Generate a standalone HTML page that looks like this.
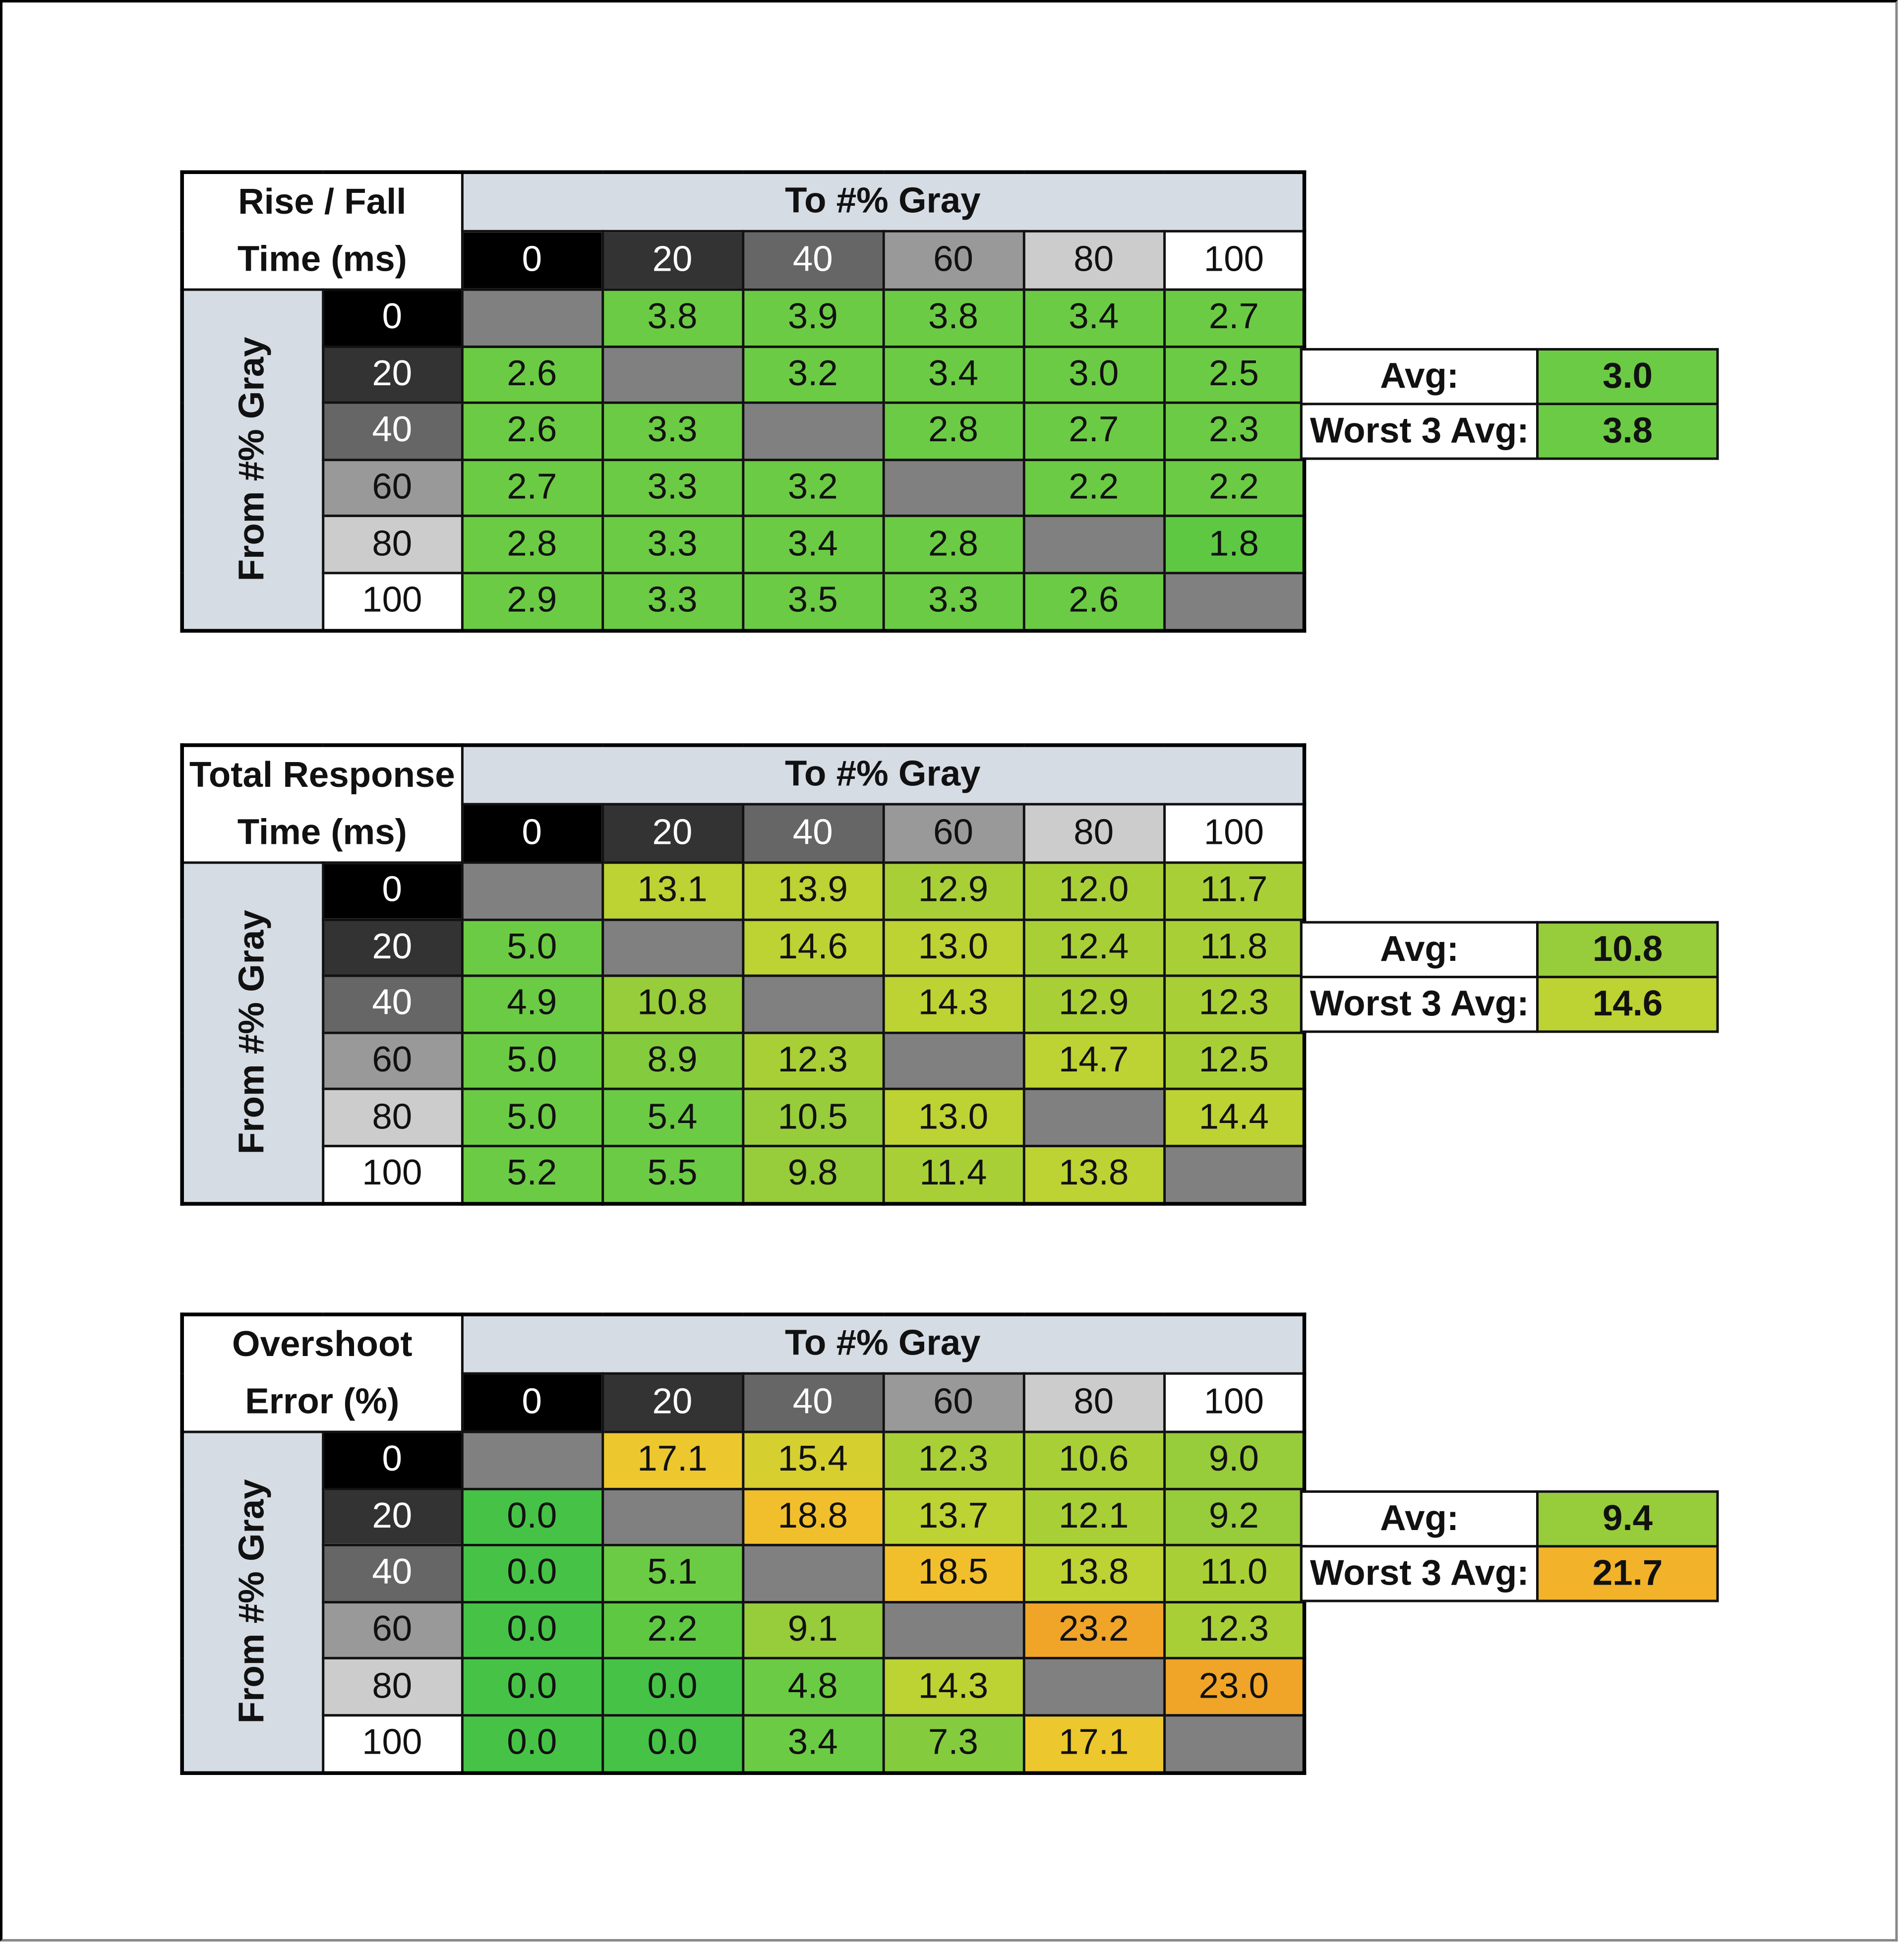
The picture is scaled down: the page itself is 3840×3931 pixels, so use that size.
<!DOCTYPE html>
<html><head><meta charset="utf-8"><style>
html,body{margin:0;padding:0;background:#fff}
body{width:3840px;height:3931px;overflow:hidden;position:relative}
#s{position:absolute;left:0;top:0;width:1532px;height:1568px;transform:scale(2.5065,2.507);transform-origin:0 0;font-family:"Liberation Sans Narrow","Liberation Sans",sans-serif;color:#111}
.frame{position:absolute;left:0;top:0;width:1527px;height:1562px;border-top:2px solid #000;border-left:2px solid #000;border-right:2px solid #888;border-bottom:2px solid #888;box-sizing:border-box}
table{position:absolute;border-collapse:collapse;table-layout:fixed;border:3px solid #000}
td{border:2px solid #111;padding:0;text-align:center;font-size:29px;line-height:1;overflow:hidden;white-space:nowrap}
.t td{height:43.6px}
.hd{background:#d6dce4;font-weight:bold}
.ti{background:#fff;font-weight:bold;line-height:46px;font-size:29px}
.rl{background:#d6dce4}
.rl div{writing-mode:vertical-rl;transform:rotate(180deg);font-weight:bold;font-size:29px;margin:auto}
.c0{background:#000;color:#fff}.c20{background:#333;color:#fff}.c40{background:#666;color:#fff}.c60{background:#999}.c80{background:#ccc}.c100{background:#fff}
.e{background:#808080}
.g{background:#6ccb44}.g2{background:#5fc843}.g0{background:#46c346}
.l1{background:#84cc3e}.l2{background:#97cc3b}.l3{background:#a9cf37}.l4{background:#bdd233}
.y1{background:#d6cf30}.y2{background:#ecc72e}.y3{background:#f2bf2c}.o1{background:#f2b22a}.o2{background:#f0a428}
.av{border:2px solid #111}
.av td{height:42px;font-size:29px}
.av .lb{background:#fff;font-weight:bold;width:186px}
.av .v{font-weight:bold;width:141px}
</style></head><body><div id="s">
<div class="frame"></div>

<!-- Table 1 -->
<table class="t" style="left:145px;top:137px;width:903px">
<colgroup><col style="width:113px"><col style="width:112px"><col span="6" style="width:113px"></colgroup>
<tr><td class="ti" rowspan="2" colspan="2" style="height:92px">Rise / Fall<br>Time (ms)</td><td class="hd" colspan="6" style="height:44px">To #% Gray</td></tr>
<tr><td class="c0">0</td><td class="c20">20</td><td class="c40">40</td><td class="c60">60</td><td class="c80">80</td><td class="c100">100</td></tr>
<tr><td class="rl" rowspan="6"><div>From #% Gray</div></td><td class="c0">0</td><td class="e"></td><td class="g">3.8</td><td class="g">3.9</td><td class="g">3.8</td><td class="g">3.4</td><td class="g">2.7</td></tr>
<tr><td class="c20">20</td><td class="g">2.6</td><td class="e"></td><td class="g">3.2</td><td class="g">3.4</td><td class="g">3.0</td><td class="g">2.5</td></tr>
<tr><td class="c40">40</td><td class="g">2.6</td><td class="g">3.3</td><td class="e"></td><td class="g">2.8</td><td class="g">2.7</td><td class="g">2.3</td></tr>
<tr><td class="c60">60</td><td class="g">2.7</td><td class="g">3.3</td><td class="g">3.2</td><td class="e"></td><td class="g">2.2</td><td class="g">2.2</td></tr>
<tr><td class="c80">80</td><td class="g">2.8</td><td class="g">3.3</td><td class="g">3.4</td><td class="g">2.8</td><td class="e"></td><td class="g2">1.8</td></tr>
<tr><td class="c100">100</td><td class="g">2.9</td><td class="g">3.3</td><td class="g">3.5</td><td class="g">3.3</td><td class="g">2.6</td><td class="e"></td></tr>
</table>
<table class="av" style="left:1046px;top:280px;width:337px">
<tr><td class="lb">Avg:</td><td class="v g">3.0</td></tr>
<tr><td class="lb">Worst 3 Avg:</td><td class="v g">3.8</td></tr>
</table>

<!-- Table 2 -->
<table class="t" style="left:145px;top:598px;width:903px">
<colgroup><col style="width:113px"><col style="width:112px"><col span="6" style="width:113px"></colgroup>
<tr><td class="ti" rowspan="2" colspan="2" style="height:92px">Total Response<br>Time (ms)</td><td class="hd" colspan="6" style="height:44px">To #% Gray</td></tr>
<tr><td class="c0">0</td><td class="c20">20</td><td class="c40">40</td><td class="c60">60</td><td class="c80">80</td><td class="c100">100</td></tr>
<tr><td class="rl" rowspan="6"><div>From #% Gray</div></td><td class="c0">0</td><td class="e"></td><td class="l4">13.1</td><td class="l4">13.9</td><td class="l3">12.9</td><td class="l3">12.0</td><td class="l3">11.7</td></tr>
<tr><td class="c20">20</td><td class="g">5.0</td><td class="e"></td><td class="l4">14.6</td><td class="l4">13.0</td><td class="l3">12.4</td><td class="l3">11.8</td></tr>
<tr><td class="c40">40</td><td class="g">4.9</td><td class="l2">10.8</td><td class="e"></td><td class="l4">14.3</td><td class="l3">12.9</td><td class="l3">12.3</td></tr>
<tr><td class="c60">60</td><td class="g">5.0</td><td class="l1">8.9</td><td class="l3">12.3</td><td class="e"></td><td class="l4">14.7</td><td class="l3">12.5</td></tr>
<tr><td class="c80">80</td><td class="g">5.0</td><td class="g">5.4</td><td class="l2">10.5</td><td class="l4">13.0</td><td class="e"></td><td class="l4">14.4</td></tr>
<tr><td class="c100">100</td><td class="g">5.2</td><td class="g">5.5</td><td class="l2">9.8</td><td class="l3">11.4</td><td class="l4">13.8</td><td class="e"></td></tr>
</table>
<table class="av" style="left:1046px;top:741px;width:337px">
<tr><td class="lb">Avg:</td><td class="v l2">10.8</td></tr>
<tr><td class="lb">Worst 3 Avg:</td><td class="v l4">14.6</td></tr>
</table>

<!-- Table 3 -->
<table class="t" style="left:145px;top:1056px;width:903px">
<colgroup><col style="width:113px"><col style="width:112px"><col span="6" style="width:113px"></colgroup>
<tr><td class="ti" rowspan="2" colspan="2" style="height:92px">Overshoot<br>Error (%)</td><td class="hd" colspan="6" style="height:44px">To #% Gray</td></tr>
<tr><td class="c0">0</td><td class="c20">20</td><td class="c40">40</td><td class="c60">60</td><td class="c80">80</td><td class="c100">100</td></tr>
<tr><td class="rl" rowspan="6"><div>From #% Gray</div></td><td class="c0">0</td><td class="e"></td><td class="y2">17.1</td><td class="y1">15.4</td><td class="l3">12.3</td><td class="l3">10.6</td><td class="l2">9.0</td></tr>
<tr><td class="c20">20</td><td class="g0">0.0</td><td class="e"></td><td class="y3">18.8</td><td class="l4">13.7</td><td class="l3">12.1</td><td class="l2">9.2</td></tr>
<tr><td class="c40">40</td><td class="g0">0.0</td><td class="g">5.1</td><td class="e"></td><td class="y3">18.5</td><td class="l4">13.8</td><td class="l3">11.0</td></tr>
<tr><td class="c60">60</td><td class="g0">0.0</td><td class="g2">2.2</td><td class="l2">9.1</td><td class="e"></td><td class="o2">23.2</td><td class="l3">12.3</td></tr>
<tr><td class="c80">80</td><td class="g0">0.0</td><td class="g0">0.0</td><td class="g">4.8</td><td class="l4">14.3</td><td class="e"></td><td class="o2">23.0</td></tr>
<tr><td class="c100">100</td><td class="g0">0.0</td><td class="g0">0.0</td><td class="g">3.4</td><td class="l1">7.3</td><td class="y2">17.1</td><td class="e"></td></tr>
</table>
<table class="av" style="left:1046px;top:1199px;width:337px">
<tr><td class="lb">Avg:</td><td class="v l2">9.4</td></tr>
<tr><td class="lb">Worst 3 Avg:</td><td class="v o1">21.7</td></tr>
</table>

</div></body></html>
